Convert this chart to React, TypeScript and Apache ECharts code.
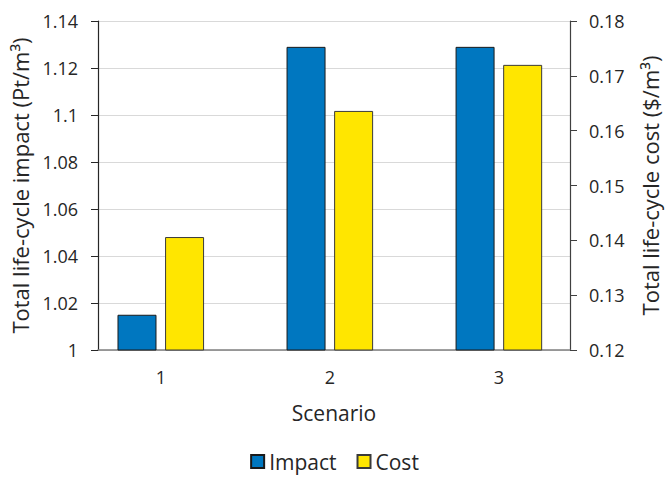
import React, { useEffect, useRef } from "react";
import * as echarts from "echarts";

const categories = ["1", "2", "3"];
const impactValues = [1.015, 1.129, 1.129];
const costValues = [0.1406, 0.1636, 0.172];
const leftTicks = { min: 1, max: 1.14, interval: 0.02 };
const rightTicks = { min: 0.12, max: 0.18, interval: 0.01 };

const FONT = "'Open Sans', sans-serif";
const TEXT = "#262626";

export default function App() {
  const ref = useRef<HTMLDivElement>(null);
  useEffect(() => {
    document.body.style.margin = "0";
    const chart = echarts.init(ref.current!, null, { renderer: "svg" });
    const catPos = categories.map((_, i) => i + 1);
    chart.setOption({
      animation: false,
      textStyle: { fontFamily: FONT, color: TEXT },
      grid: { left: 98, right: 90, top: 21, bottom: 129, containLabel: false },
      legend: {
        left: "center",
        bottom: 2,
        itemWidth: 13,
        itemHeight: 13,
        itemGap: 20,
        icon: "rect",
        textStyle: { fontFamily: FONT, fontSize: 21, color: TEXT },
        data: ["Impact", "Cost"],
      },
      xAxis: {
        type: "value",
        min: 0.6286,
        max: 3.4208,
        name: "Scenario",
        nameLocation: "middle",
        nameGap: 52,
        nameTextStyle: { fontFamily: FONT, fontSize: 21, color: TEXT },
        axisLine: { show: true, lineStyle: { color: "#808080", width: 1.5 } },
        axisTick: { show: false },
        splitLine: { show: false },
        axisLabel: {
          customValues: catPos,
          margin: 18,
          fontFamily: FONT,
          fontSize: 18,
          color: TEXT,
          formatter: (v: number) => categories[Math.round(v) - 1] ?? "",
        },
      },
      yAxis: [
        {
          type: "value",
          position: "left",
          min: leftTicks.min,
          max: leftTicks.max,
          interval: leftTicks.interval,
          name: "Total life-cycle impact (Pt/m³)",
          nameLocation: "middle",
          nameGap: 65,
          nameTextStyle: { fontFamily: FONT, fontSize: 22, color: TEXT },
          axisLine: { show: true, lineStyle: { color: "#262626", width: 1.2 } },
          axisTick: { show: true, length: 7, lineStyle: { color: "#262626" } },
          axisLabel: { margin: 20, fontFamily: FONT, fontSize: 18, color: TEXT },
          splitLine: { show: true, lineStyle: { color: "#d9d9d9", width: 1.2 } },
        },
        {
          type: "value",
          position: "right",
          min: rightTicks.min,
          max: rightTicks.max,
          interval: rightTicks.interval,
          name: "Total life-cycle cost ($/m³)",
          nameLocation: "middle",
          nameGap: 69,
          nameTextStyle: { fontFamily: FONT, fontSize: 22, color: TEXT },
          axisLine: { show: true, lineStyle: { color: "#404040", width: 1.2 } },
          axisTick: { show: true, length: 7, lineStyle: { color: "#404040" } },
          axisLabel: { margin: 19, fontFamily: FONT, fontSize: 18, color: TEXT },
          splitLine: { show: false },
        },
      ],
      series: [
        {
          name: "Impact",
          type: "bar",
          yAxisIndex: 0,
          barWidth: 39,
          barGap: "22%",
          data: impactValues.map((v, i) => [catPos[i], v]),
          itemStyle: { color: "#0077C0", borderColor: "#1a1a1a", borderWidth: 1 },
        },
        {
          name: "Cost",
          type: "bar",
          yAxisIndex: 1,
          barWidth: 39,
          barGap: "22%",
          data: costValues.map((v, i) => [catPos[i], v]),
          itemStyle: { color: "#FFE600", borderColor: "#3a3a3a", borderWidth: 1 },
        },
      ],
    });
    return () => chart.dispose();
  }, []);
  return <div ref={ref} style={{ width: 669, height: 479 }} />;
}
